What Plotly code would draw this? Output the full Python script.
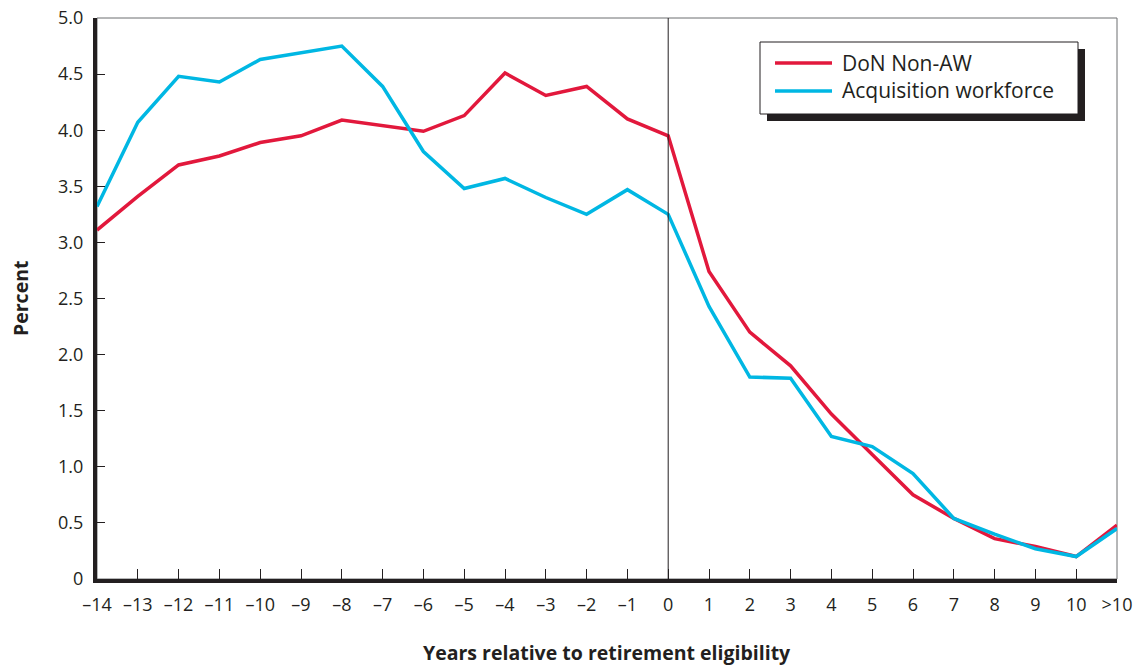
import plotly.graph_objects as go

years = list(range(-14, 12))
tick_labels = ["–14", "–13", "–12", "–11", "–10", "–9", "–8", "–7", "–6", "–5", "–4", "–3", "–2", "–1",
               "0", "1", "2", "3", "4", "5", "6", "7", "8", "9", "10", ">10"]
don_non_aw = [3.11, 3.41, 3.69, 3.77, 3.89, 3.95, 4.09, 4.04, 3.99, 4.13, 4.51, 4.31, 4.39, 4.10,
              3.95, 2.74, 2.20, 1.90, 1.47, 1.11, 0.75, 0.54, 0.36, 0.29, 0.20, 0.48]
acq_workforce = [3.32, 4.07, 4.48, 4.43, 4.63, 4.69, 4.75, 4.39, 3.81, 3.48, 3.57, 3.40, 3.25, 3.47,
                 3.25, 2.43, 1.80, 1.79, 1.27, 1.18, 0.94, 0.54, 0.40, 0.27, 0.20, 0.45]
y_ticks = [0, 0.5, 1.0, 1.5, 2.0, 2.5, 3.0, 3.5, 4.0, 4.5, 5.0]
y_tick_labels = ["0", "0.5", "1.0", "1.5", "2.0", "2.5", "3.0", "3.5", "4.0", "4.5", "5.0"]

RED = "#E2183C"
BLUE = "#00B7E3"
DARK = "#231F20"
FONT = "Open Sans"

fig = go.Figure()
fig.add_trace(go.Scatter(x=years, y=don_non_aw, mode="lines", name="DoN Non-AW",
                         line=dict(color=RED, width=3.5)))
fig.add_trace(go.Scatter(x=years, y=acq_workforce, mode="lines", name="Acquisition workforce",
                         line=dict(color=BLUE, width=3.5)))

L, R, T, B = 97, 23, 18, 90
W, H = 1140, 669
pw, ph = W - L - R, H - T - B


def px(x):
    return (x - L) / pw


def py(y):
    return (H - B - y) / ph


shapes = [
    dict(type="rect", xref="paper", yref="paper", x0=0, x1=1, y0=0, y1=1,
         line=dict(color="#6d6e71", width=1), layer="below"),
    dict(type="line", xref="x", yref="paper", x0=0, x1=0, y0=0, y1=1,
         line=dict(color=DARK, width=1)),
    dict(type="rect", xref="paper", yref="paper", x0=px(767), x1=px(1085), y0=py(121), y1=py(49),
         fillcolor=DARK, line=dict(width=0)),
    dict(type="rect", xref="paper", yref="paper", x0=px(760), x1=px(1078), y0=py(114), y1=py(42),
         fillcolor="white", line=dict(color=DARK, width=1)),
    dict(type="line", xref="paper", yref="paper", x0=px(775), x1=px(832), y0=py(63), y1=py(63),
         line=dict(color=RED, width=3.5)),
    dict(type="line", xref="paper", yref="paper", x0=px(775), x1=px(832), y0=py(91), y1=py(91),
         line=dict(color=BLUE, width=3.5)),
]

annotations = [
    dict(text="DoN Non-AW", xref="paper", yref="paper", x=px(840), y=py(63), xanchor="left",
         yanchor="middle", showarrow=False, font=dict(family=FONT, size=21, color=DARK)),
    dict(text="Acquisition workforce", xref="paper", yref="paper", x=px(840), y=py(90), xanchor="left",
         yanchor="middle", showarrow=False, font=dict(family=FONT, size=21, color=DARK)),
    dict(text="<b>Years relative to retirement eligibility</b>", xref="paper", yref="paper",
         x=0.5, y=py(652), xanchor="center", yanchor="middle", showarrow=False,
         font=dict(family=FONT, size=19.5, color=DARK)),
    dict(text="<b>Percent</b>", xref="paper", yref="paper", x=px(20), y=py(299),
         xanchor="center", yanchor="middle", textangle=-90, showarrow=False,
         font=dict(family=FONT, size=19.5, color=DARK)),
]

fig.update_layout(
    width=W, height=H,
    margin=dict(l=L, r=R, t=T, b=B, autoexpand=False),
    plot_bgcolor="white", paper_bgcolor="white",
    showlegend=False,
    font=dict(family=FONT, size=18, color=DARK),
    shapes=shapes, annotations=annotations,
    xaxis=dict(range=[-14, 11], tickvals=years, ticktext=tick_labels,
               showgrid=False, zeroline=False, automargin=False,
               showline=True, linecolor=DARK, linewidth=4,
               ticks="inside", ticklen=10, tickcolor=DARK, tickwidth=1,
               ticklabelstandoff=6,
               tickfont=dict(family=FONT, size=18, color=DARK)),
    yaxis=dict(range=[0, 5.0], tickvals=y_ticks, ticktext=y_tick_labels,
               showgrid=False, zeroline=False, automargin=False,
               showline=True, linecolor=DARK, linewidth=4,
               ticks="inside", ticklen=8, tickcolor=DARK, tickwidth=1,
               ticklabelstandoff=6,
               tickfont=dict(family=FONT, size=18, color=DARK)),
)

fig.write_html("out.html", config={"displayModeBar": False},
               post_script="document.body.style.margin='0';")
